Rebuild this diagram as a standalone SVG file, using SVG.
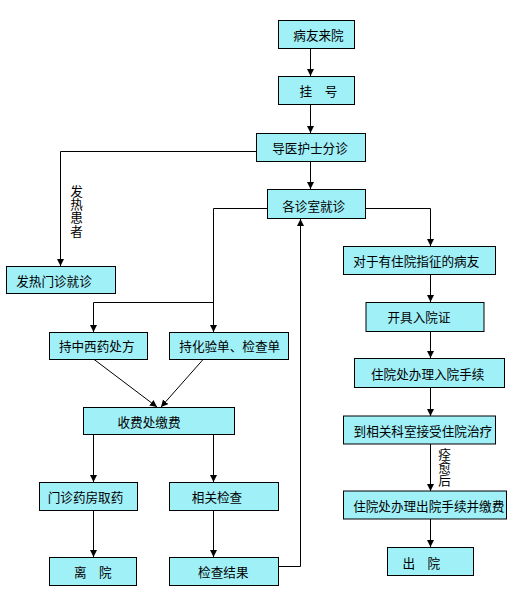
<svg xmlns="http://www.w3.org/2000/svg" width="524" height="597" viewBox="0 0 524 597">
<style>
.box{fill:#A0F0F8;stroke:#000;stroke-width:1}
.t{font-family:"Noto Sans CJK SC","Noto Sans",sans-serif;font-size:12.6px;fill:#000;text-anchor:middle;dominant-baseline:central}
.c{fill:none;stroke:#000;stroke-width:1}
.lab{font-family:"Noto Sans CJK SC","Noto Sans",sans-serif;font-size:12.6px;fill:#000;writing-mode:vertical-rl;text-anchor:start;letter-spacing:0.8px}
</style>
<defs>
<marker id="ah" markerUnits="userSpaceOnUse" markerWidth="8" markerHeight="8" refX="7" refY="3.5" orient="auto">
<path d="M0,0 L7,3.5 L0,7 Z" fill="#000"/>
</marker>
</defs>
<rect width="524" height="597" fill="#fff"/>
<g id="connectors">
<polyline class="c" points="310.5,48 310.5,76" marker-end="url(#ah)"/>
<polyline class="c" points="310.5,104 310.5,133" marker-end="url(#ah)"/>
<polyline class="c" points="256,151.5 60.5,151.5 60.5,266" marker-end="url(#ah)"/>
<polyline class="c" points="310.5,161 310.5,189" marker-end="url(#ah)"/>
<polyline class="c" points="267,208.5 213.5,208.5 213.5,332" marker-end="url(#ah)"/>
<polyline class="c" points="213.5,302.5 93.5,302.5 93.5,332" marker-end="url(#ah)"/>
<polyline class="c" points="93.5,359 157,407" marker-end="url(#ah)"/>
<polyline class="c" points="203.5,359 161,407" marker-end="url(#ah)"/>
<polyline class="c" points="93.5,434 93.5,482" marker-end="url(#ah)"/>
<polyline class="c" points="213.5,434 213.5,482" marker-end="url(#ah)"/>
<polyline class="c" points="93.5,510 93.5,557" marker-end="url(#ah)"/>
<polyline class="c" points="213.5,510 213.5,557" marker-end="url(#ah)"/>
<polyline class="c" points="278,566.5 300.5,566.5 300.5,219" marker-end="url(#ah)"/>
<polyline class="c" points="365,208.5 430.5,208.5 430.5,246" marker-end="url(#ah)"/>
<polyline class="c" points="430.5,274 430.5,302" marker-end="url(#ah)"/>
<polyline class="c" points="430.5,332 430.5,358" marker-end="url(#ah)"/>
<polyline class="c" points="430.5,387 430.5,416" marker-end="url(#ah)"/>
<polyline class="c" points="430.5,444 430.5,491" marker-end="url(#ah)"/>
<polyline class="c" points="430.5,519 430.5,547" marker-end="url(#ah)"/>
<text class="lab" x="76.5" y="184.5">发热患者</text>
<text class="lab" x="444.5" y="447.5">痊愈后</text>
</g>
<g id="n1"><rect class="box" x="278.5" y="20.5" width="76" height="28"/><text class="t" x="318.5" y="34.5">病友来院</text></g>
<g id="n2"><rect class="box" x="278.5" y="76.5" width="76" height="28"/><text class="t" x="318.5" y="90.5">挂　号</text></g>
<g id="n3"><rect class="box" x="256.5" y="133.5" width="109" height="28"/><text class="t" x="310" y="147.5">导医护士分诊</text></g>
<g id="n4"><rect class="box" x="267.5" y="189.5" width="98" height="29"/><text class="t" x="313.7" y="205">各诊室就诊</text></g>
<g id="n5"><rect class="box" x="6.5" y="266.5" width="109" height="27"/><text class="t" x="54" y="280">发热门诊就诊</text></g>
<g id="n6"><rect class="box" x="49.5" y="332.5" width="98" height="27"/><text class="t" x="96.7" y="345.5">持中西药处方</text></g>
<g id="n7"><rect class="box" x="169.5" y="332.5" width="119" height="27"/><text class="t" x="229.7" y="345.5">持化验单、检查单</text></g>
<g id="n8"><rect class="box" x="83.5" y="407.5" width="151" height="27"/><text class="t" x="149" y="421">收费处缴费</text></g>
<g id="n9"><rect class="box" x="39.5" y="482.5" width="98" height="28"/><text class="t" x="85.5" y="496">门诊药房取药</text></g>
<g id="n10"><rect class="box" x="169.5" y="482.5" width="109" height="28"/><text class="t" x="217" y="496">相关检查</text></g>
<g id="n11"><rect class="box" x="49.5" y="557.5" width="87" height="28"/><text class="t" x="92.8" y="571.5">离　院</text></g>
<g id="n12"><rect class="box" x="169.5" y="557.5" width="109" height="28"/><text class="t" x="223.3" y="571.5">检查结果</text></g>
<g id="n13"><rect class="box" x="343.5" y="246.5" width="152" height="28"/><text class="t" x="416.3" y="260">对于有住院指征的病友</text></g>
<g id="n14"><rect class="box" x="366" y="302.5" width="118" height="29"/><text class="t" x="419" y="316.7">开具入院证</text></g>
<g id="n15"><rect class="box" x="354.5" y="358.5" width="150" height="29"/><text class="t" x="427.7" y="373.3">住院处办理入院手续</text></g>
<g id="n16"><rect class="box" x="343.5" y="416" width="152" height="28"/><text class="t" x="422.8" y="430">到相关科室接受住院治疗</text></g>
<g id="n17"><rect class="box" x="343.5" y="491" width="163" height="28"/><text class="t" x="428.7" y="505">住院处办理出院手续并缴费</text></g>
<g id="n18"><rect class="box" x="387.5" y="547.5" width="86" height="28"/><text class="t" x="421.3" y="562">出　院</text></g>
</svg>
